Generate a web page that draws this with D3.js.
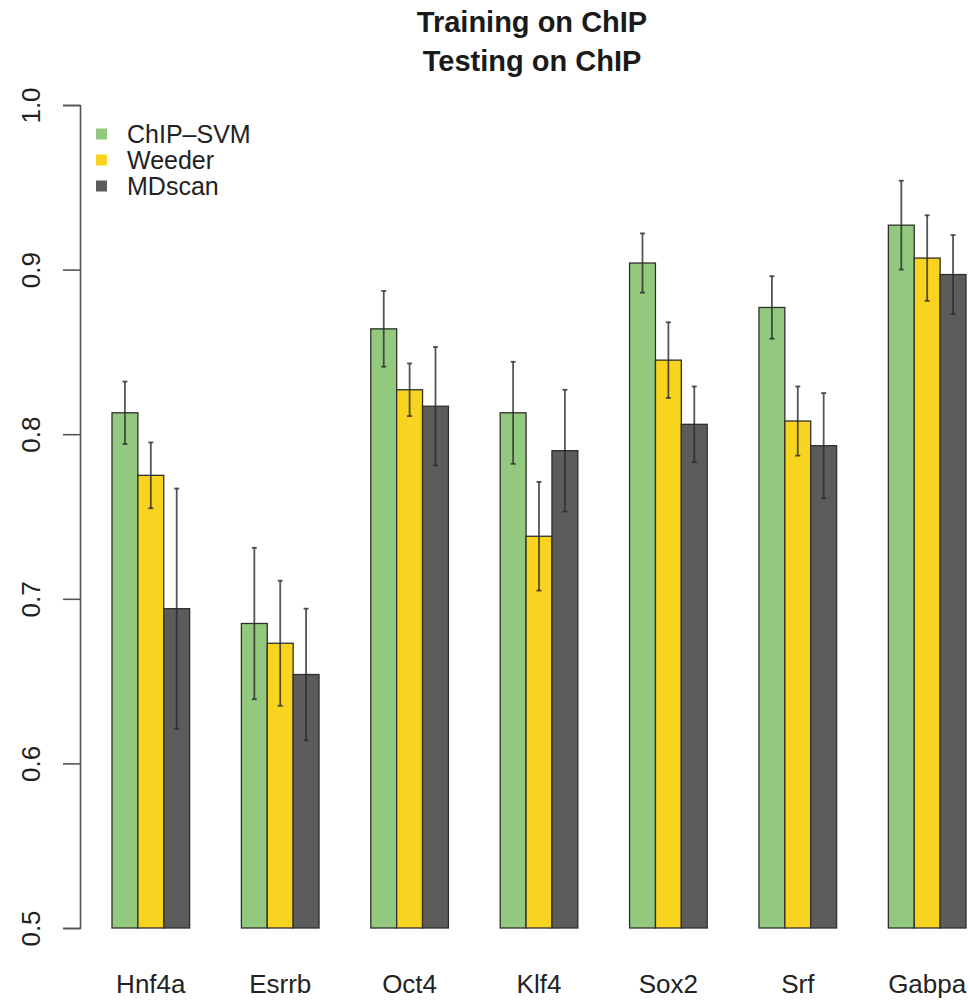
<!DOCTYPE html>
<html>
<head>
<meta charset="utf-8">
<script src="https://cdn.jsdelivr.net/npm/d3@7"></script>
<style>
  html, body { margin: 0; padding: 0; background: #fff; }
  svg { display: block; font-family: "Liberation Sans", Arial, Helvetica, sans-serif; }
</style>
</head>
<body>
<svg id="chart" width="970" height="1000"></svg>
<script>
// Motif discovery accuracy per transcription factor
const categories = ["Hnf4a", "Esrrb", "Oct4", "Klf4", "Sox2", "Srf", "Gabpa"];
const seriesNames = ["ChIP–SVM", "Weeder", "MDscan"];
const seriesColors = ["#93c97f", "#f8d31f", "#5c5c5a"];

// Mean values for each method
const chipSvm = [0.813, 0.685, 0.864, 0.813, 0.904, 0.877, 0.927];
const weeder  = [0.775, 0.673, 0.827, 0.738, 0.845, 0.808, 0.907];
const mdscan  = [0.694, 0.654, 0.817, 0.790, 0.806, 0.793, 0.897];

// Half-widths of the error bars
const chipSvmErr = [0.019, 0.046, 0.023, 0.031, 0.018, 0.019, 0.027];
const weederErr  = [0.020, 0.038, 0.016, 0.033, 0.023, 0.021, 0.026];
const mdscanErr  = [0.073, 0.040, 0.036, 0.037, 0.023, 0.032, 0.024];

const yTicks = [0.5, 0.6, 0.7, 0.8, 0.9, 1.0];
const titleLines = ["Training on ChIP", "Testing on ChIP"];

const values = [chipSvm, weeder, mdscan];
const errors = [chipSvmErr, weederErr, mdscanErr];

const rows = [];
categories.forEach((c, i) => {
  seriesNames.forEach((s, j) => {
    rows.push({ cat: c, series: s, idx: j, value: values[j][i], err: errors[j][i] });
  });
});

const svg = d3.select("#chart");

const y = d3.scaleLinear().domain([0.5, 1.0]).range([928, 105]);
const x0 = d3.scaleBand().domain(categories).range([112, 966]).paddingInner(0.4).paddingOuter(0);
const x1 = d3.scaleBand().domain(seriesNames).range([0, x0.bandwidth()]).padding(0);

// Bars
svg.append("g")
  .selectAll("rect")
  .data(rows)
  .join("rect")
  .attr("x", d => x0(d.cat) + x1(d.series))
  .attr("y", d => y(d.value))
  .attr("width", x1.bandwidth())
  .attr("height", d => y(0.5) - y(d.value))
  .attr("fill", d => seriesColors[d.idx])
  .attr("stroke", "#2f2f2a")
  .attr("stroke-width", 1.3);

// Error bars
const eb = svg.append("g").attr("stroke", "#2a2a2a").attr("stroke-opacity", 0.8).attr("stroke-width", 1.8);
rows.forEach(d => {
  const cx = x0(d.cat) + x1(d.series) + x1.bandwidth() / 2;
  const top = y(d.value + d.err), bot = y(d.value - d.err);
  eb.append("line").attr("x1", cx).attr("x2", cx).attr("y1", top).attr("y2", bot);
  eb.append("line").attr("x1", cx - 2.5).attr("x2", cx + 2.5).attr("y1", top).attr("y2", top);
  eb.append("line").attr("x1", cx - 2.5).attr("x2", cx + 2.5).attr("y1", bot).attr("y2", bot);
});

// Y axis
const yAxis = d3.axisLeft(y).tickValues(yTicks).tickFormat(d3.format(".1f")).tickSize(17).tickPadding(0);
const ya = svg.append("g").attr("transform", "translate(80,0)").call(yAxis);
ya.select(".domain").attr("stroke", "#555").attr("stroke-width", 1.6);
ya.selectAll(".tick line").attr("stroke", "#555").attr("stroke-width", 1.6);
ya.selectAll(".tick text")
  .attr("font-size", 26)
  .attr("fill", "#222")
  .attr("text-anchor", "middle")
  .attr("transform", "translate(-49,0) rotate(-90)")
  .attr("x", 0)
  .attr("dy", "0.35em")
  .attr("y", 0);

// Category labels
svg.append("g")
  .selectAll("text")
  .data(categories)
  .join("text")
  .attr("x", d => x0(d) + x0.bandwidth() / 2)
  .attr("y", 993)
  .attr("text-anchor", "middle")
  .attr("font-size", 26)
  .attr("fill", "#222")
  .text(d => d);

// Title
svg.append("g")
  .selectAll("text")
  .data(titleLines)
  .join("text")
  .attr("x", 532)
  .attr("y", (d, i) => 32 + i * 39)
  .attr("text-anchor", "middle")
  .attr("font-size", 29)
  .attr("font-weight", "bold")
  .attr("fill", "#1a1a1a")
  .text(d => d);

// Legend
const lg = svg.append("g").selectAll("g").data(seriesNames).join("g")
  .attr("transform", (d, i) => `translate(96,${134 + i * 26})`);
lg.append("rect").attr("x", 0).attr("y", -5.5).attr("width", 11).attr("height", 11)
  .attr("fill", (d, i) => seriesColors[i]);
lg.append("text").attr("x", 31).attr("y", 0).attr("dy", "0.36em")
  .attr("font-size", 25).attr("fill", "#222").text(d => d);
</script>
</body>
</html>
